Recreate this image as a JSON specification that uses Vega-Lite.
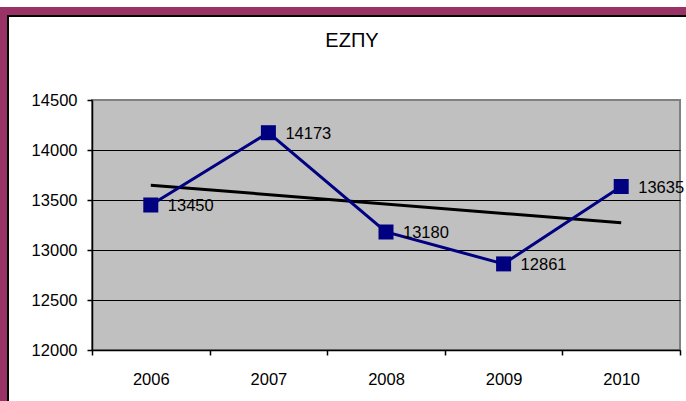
{
  "$schema": "https://vega.github.io/schema/vega-lite/v6.json",
  "background": "white",
  "padding": {"top": 7, "left": 0, "right": 0, "bottom": 0},
  "config": {
    "font": "Liberation Sans",
    "view": {"stroke": null}
  },
  "spacing": 0,
  "vconcat": [
    {"width": 686, "height": 8, "data": {"values": []}, "mark": "point", "view": {"fill": "#993366", "stroke": null}},
    {
      "spacing": 0,
      "hconcat": [
        {"width": 7, "height": 386, "data": {"values": []}, "mark": "point", "view": {"fill": "#993366", "stroke": null}},
        {"width": 2, "height": 386, "data": {"values": []}, "mark": "point", "view": {"fill": "black", "stroke": null}},
        {
          "spacing": 83,
          "bounds": "flush",
          "vconcat": [
            {"width": 677, "height": 2, "data": {"values": []}, "mark": "point", "view": {"fill": "black", "stroke": null}},
            {
              "spacing": 82,
              "bounds": "flush",
              "hconcat": [
                {"width": 1, "height": 1, "data": {"values": []}, "mark": "point", "view": {"fill": null, "stroke": null}},
                {
                  "width": 588,
                  "height": 250,
                  "title": {"text": "ΕΖΠΥ", "fontSize": 20, "fontWeight": "normal", "color": "black", "frame": "group", "anchor": "middle", "baseline": "alphabetic", "offset": 25, "dx": -34},
                  "view": {"fill": "#c0c0c0", "stroke": "#808080", "strokeWidth": 2},
                  "data": {"values": [
                    {"year": 2006, "value": 13450},
                    {"year": 2007, "value": 14173},
                    {"year": 2008, "value": 13180},
                    {"year": 2009, "value": 12861},
                    {"year": 2010, "value": 13635}
                  ]},
                  "encoding": {
                    "x": {"field": "year", "type": "ordinal",
                      "scale": {"type": "band", "paddingInner": 0, "paddingOuter": 0},
                      "axis": {"title": null, "tickBand": "extent", "labelAngle": 0, "grid": false,
                        "domainColor": "black", "domainWidth": 1.5, "tickColor": "black", "tickWidth": 1.5, "tickSize": 5,
                        "labelFontSize": 16.5, "labelColor": "black", "labelPadding": 16}},
                    "y": {"field": "value", "type": "quantitative",
                      "scale": {"domain": [12000, 14500], "nice": false, "zero": false},
                      "axis": {"title": null, "values": [12000, 12500, 13000, 13500, 14000, 14500], "format": "d",
                        "grid": true, "gridColor": "black", "gridWidth": 1,
                        "gridOpacity": {"condition": {"test": "datum.value === 14500", "value": 0}, "value": 1},
                        "domainColor": "black", "domainWidth": 1.5, "tickColor": "black", "tickWidth": 1.5, "tickSize": 5,
                        "labelFontSize": 16.5, "labelColor": "black", "labelPadding": 10}}
                  },
                  "layer": [
                    {"transform": [{"regression": "value", "on": "year"}],
                     "mark": {"type": "line", "color": "black", "strokeWidth": 3}},
                    {"mark": {"type": "line", "color": "#000080", "strokeWidth": 3}},
                    {"mark": {"type": "point", "shape": "square", "size": 225, "filled": true, "color": "#000080", "opacity": 1}},
                    {"mark": {"type": "text", "align": "left", "baseline": "middle", "dx": 17, "dy": 1, "fontSize": 16.5, "color": "black"},
                     "encoding": {"text": {"field": "value", "type": "quantitative", "format": "d"}}}
                  ]
                }
              ]
            }
          ]
        }
      ]
    }
  ]
}
